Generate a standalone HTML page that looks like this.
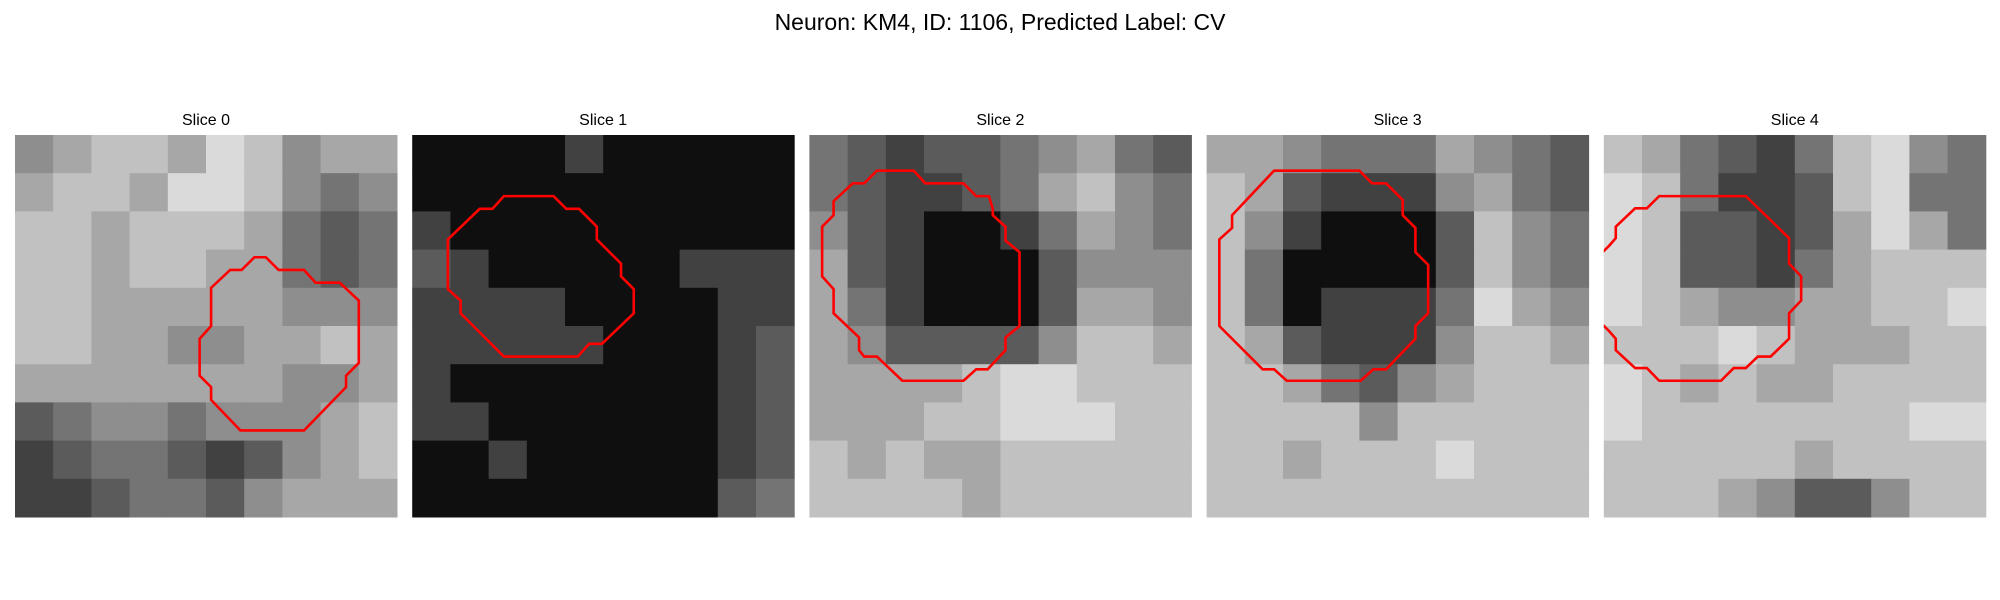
<!DOCTYPE html>
<html><head><meta charset="utf-8"><style>
html,body{margin:0;padding:0;background:#fff;width:2000px;height:600px;overflow:hidden}
svg text{font-family:"Liberation Sans","DejaVu Sans",sans-serif;fill:#000}
</style></head><body>
<svg id="fig" width="2000" height="600" viewBox="0 0 2000 600" xmlns="http://www.w3.org/2000/svg">
<text x="1000" y="30" text-anchor="middle" font-size="23">Neuron: KM4, ID: 1106, Predicted Label: CV</text>
</svg>
<script>
// coarse intensity grids (0=black .. 9=white), 10x10 per slice
const slice0 = ["5677687566","6776887545","7767776434","7767766434","7766666555","7766556676","6666666556","3455455567","2344323567","2234435666"];
const slice1 = ["1111211111","1111111111","2111111111","3211111222","2222111122","2222211123","2111111123","2211111123","1121111123","1111111134"];
const slice2 = ["4323345643","4322346754","5321124654","6321113555","6421113665","6533335776","6666788777","6667788877","7676677777","7777677777"];
const slice3 = ["6654446543","7632225643","7521113754","7411113754","7412224865","7632225776","7764356777","7777577777","7767778777","7777777777"];
const slice4 = ["7643247854","8742237844","8733236864","8733246777","8765566778","7778766677","8767667777","8777777788","7777767777","7776533577"];
const slices = [slice0, slice1, slice2, slice3, slice4];
const sliceTitles = ["Slice 0","Slice 1","Slice 2","Slice 3","Slice 4"];
// contours in pixel-grid coordinates (30x30 image)
const contour0 = [[18.8,9.6],[19.7,9.6],[20.7,10.6],[22.7,10.6],[23.6,11.6],[25.5,11.6],[27,13],[27,17.9],[26,18.9],[26,19.8],[22.7,23.2],[17.7,23.2],[15.4,20.8],[15.4,19.8],[14.5,18.9],[14.5,16],[15.4,15],[15.4,12],[16.9,10.6],[17.8,10.6]];
const contour1 = [[7.2,4.8],[11.1,4.8],[12.1,5.8],[13.1,5.8],[14.5,7.2],[14.5,8.2],[16.4,10.1],[16.4,11.1],[17.4,12.1],[17.4,14],[14.9,16.4],[13.9,16.4],[13,17.4],[7.2,17.4],[3.8,14],[3.8,13],[2.8,12.1],[2.8,8.2],[5.3,5.8],[6.3,5.8]];
const contour2 = [[5.3,2.8],[8.2,2.8],[9.1,3.8],[12.1,3.8],[13.1,4.8],[14.1,4.8],[14.4,5.8],[14.4,6.3],[15.4,7.2],[15.4,8.3],[16.5,9.2],[16.5,15],[15.4,15.9],[15.4,16.9],[14,18.4],[13.1,18.4],[12.1,19.3],[7.3,19.3],[5.3,17.4],[4.3,17.4],[3.9,16.9],[3.9,15.9],[1.9,14],[1.9,12.1],[1,11.1],[1,7.2],[1.9,6.3],[1.9,5.2],[3.4,3.8],[4.3,3.8]];
const contour3 = [[5.3,2.8],[12,2.8],[13,3.8],[14.1,3.8],[15.4,5.1],[15.4,6.3],[16.4,7.3],[16.4,9.2],[17.4,10.2],[17.4,14],[16.4,15],[16.4,16],[14.1,18.4],[13.1,18.4],[12.1,19.3],[6.3,19.3],[5.3,18.4],[4.4,18.4],[2,16],[1,15],[1,8.2],[2,7.3],[2,6.3]];
const contour4 = [[0.42,8.7],[0.94,8.1],[0.94,7.2],[2.46,5.76],[3.38,5.76],[4.35,4.8],[11.15,4.8],[14.55,8.1],[14.55,10.1],[15.5,11.1],[15.5,13],[14.55,14],[14.55,16],[13.1,17.4],[12.1,17.4],[11.15,18.3],[10.2,18.3],[9.2,19.3],[4.35,19.3],[3.38,18.3],[2.46,18.3],[0.94,16.9],[0.94,16],[0.42,15.4],[-0.5,14.5],[-0.5,9.6]];
const contours = [contour0, contour1, contour2, contour3, contour4];

const NS = "http://www.w3.org/2000/svg";
const svg = document.getElementById('fig');
const panelX = i => 15 + i * 397.2;
const panelY = 135, panelSize = 382, nPix = 30;
const px = (i, c) => panelX(i) + c * panelSize / nPix;
const py = r => panelY + r * panelSize / nPix;
const gray = v => { const g = v <= 1 ? Math.round(v * 15) : Math.round(14 + v * 25.5); return `rgb(${g},${g},${g})`; };

slices.forEach((grid, i) => {
  const g = document.createElementNS(NS, 'g');
  
  
  svg.appendChild(g);
  const clip = document.createElementNS(NS, 'clipPath');
  clip.setAttribute('id', 'clip' + i);
  const cr = document.createElementNS(NS, 'rect');
  cr.setAttribute('x', panelX(i)); cr.setAttribute('y', panelY);
  cr.setAttribute('width', panelSize); cr.setAttribute('height', panelSize);
  clip.appendChild(cr); g.appendChild(clip);
  const n = grid.length;
  grid.forEach((row, r) => {
    for (let c = 0; c < row.length; c++) {
      const v = +row[c];
      const rect = document.createElementNS(NS, 'rect');
      
      
      const x0 = px(i, c * nPix / row.length), x1 = px(i, (c + 1) * nPix / row.length);
      const y0 = py(r * nPix / n), y1 = py((r + 1) * nPix / n);
      rect.setAttribute('x', x0); rect.setAttribute('y', y0);
      rect.setAttribute('width', x1 - x0 + 0.5); rect.setAttribute('height', y1 - y0 + 0.5);
      rect.setAttribute('fill', gray(v));
      g.appendChild(rect);
    }
  });
  const poly = document.createElementNS(NS, 'polygon');
  
  
  poly.setAttribute('points', contours[i].map(p => px(i, p[0]) + ',' + py(p[1])).join(' '));
  poly.setAttribute('fill', 'none');
  poly.setAttribute('stroke', '#ff0000');
  poly.setAttribute('stroke-width', '2.6');
  poly.setAttribute('clip-path', 'url(#clip' + i + ')');
  g.appendChild(poly);
  const t = document.createElementNS(NS, 'text');
  
  
  t.setAttribute('x', panelX(i) + panelSize / 2); t.setAttribute('y', 125);
  t.setAttribute('text-anchor', 'middle'); t.setAttribute('font-size', '16');
  t.textContent = sliceTitles[i];
  g.appendChild(t);
});
</script>
</body></html>
